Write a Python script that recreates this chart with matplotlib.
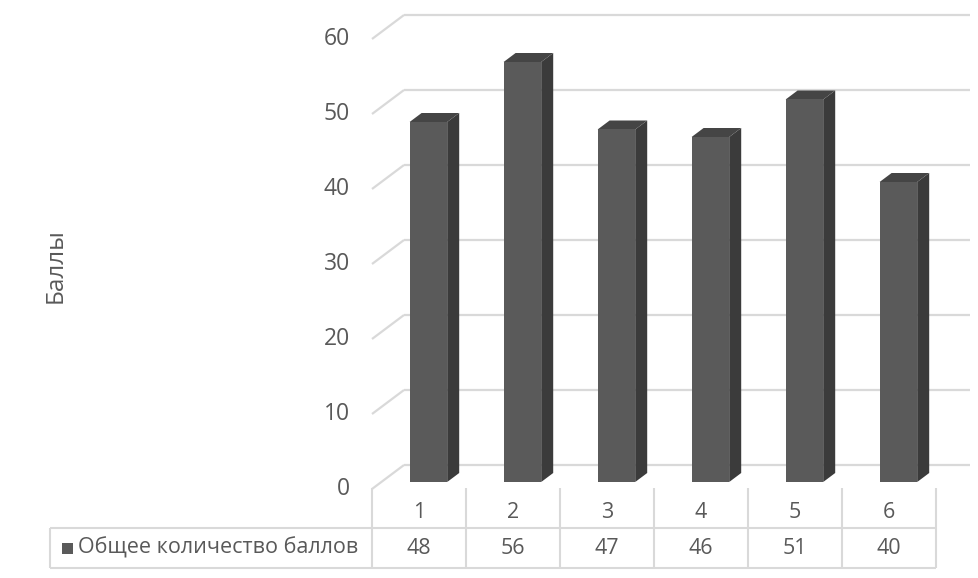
import matplotlib
matplotlib.use("Agg")
import matplotlib.pyplot as plt
from matplotlib.patches import Polygon, Rectangle

# ---- данные ----
categories = ["1", "2", "3", "4", "5", "6"]
scores = [48, 56, 47, 46, 51, 40]
y_ticks = [0, 10, 20, 30, 40, 50, 60]
series_name = "Общее количество баллов"
axis_title = "Баллы"

# ---- оформление ----
FONT = ["Open Sans", "DejaVu Sans"]
TEXT_C = "#595959"
GRID_C = "#d9d9d9"
FRONT_C = "#5a5a5a"
SIDE_C = "#3b3b3b"
TOP_C = "#454545"

# масштаб: пикселей на категорию / на балл
SX = 94.0
SY = 7.5


def px_x(p):
    return p / SX


def px_y(p):
    return -p / SY


fig = plt.figure(figsize=(9.79, 5.78), dpi=100)
ax = fig.add_axes([0, 0, 1, 1])
ax.set_xlim(-372 / SX, (979 - 372) / SX)
ax.set_ylim((482 - 578) / SY, 482 / SY)
ax.axis("off")

# --- сетка: боковая диагональ + задняя стена ---
wall_dx, wall_dy = px_x(32), px_y(-24)
front_off = px_y(7)
grid_end = (970 - 372) / SX
for g in y_ticks:
    y0 = g + front_off
    y1 = y0 + wall_dy
    ax.plot([0, wall_dx], [y0, y1], color=GRID_C, lw=1.6, zorder=1,
            solid_capstyle="butt")
    ax.plot([wall_dx, grid_end], [y1, y1], color=GRID_C, lw=1.6, zorder=1,
            solid_capstyle="butt")
    ax.text(px_x(-22), y0, str(g), ha="right", va="center", color=TEXT_C,
            fontsize=16.5, family=FONT)

# --- 3D столбцы ---
bar_off, bar_w = 0.40, 0.40
ddx, ddy = px_x(12), px_y(-9)
for i, v in enumerate(scores):
    x0 = i + bar_off
    x1 = x0 + bar_w
    ax.add_patch(Polygon([(x1, 0), (x1 + ddx, ddy), (x1 + ddx, v + ddy), (x1, v)],
                         closed=True, fc=SIDE_C, ec="none", zorder=3))
    ax.add_patch(Polygon([(x0, v), (x1, v), (x1 + ddx, v + ddy), (x0 + ddx, v + ddy)],
                         closed=True, fc=TOP_C, ec="none", zorder=3))
    ax.add_patch(Rectangle((x0, 0), bar_w, v, fc=FRONT_C, ec="none", zorder=4))

# --- таблица данных ---
n = len(categories)
row_top = px_y(6)
row_mid = px_y(46)
row_bot = px_y(86)
left = px_x(50 - 372)
tab_kw = dict(color=GRID_C, lw=1.5, zorder=2, solid_capstyle="butt")
for i in range(n + 1):
    ax.plot([i, i], [row_top, row_bot], **tab_kw)
ax.plot([left, n], [row_mid, row_mid], **tab_kw)
ax.plot([left, n], [row_bot, row_bot], **tab_kw)
ax.plot([left, left], [row_mid, row_bot], **tab_kw)

cat_y = px_y(31)
val_y = px_y(66)
for i, (c, v) in enumerate(zip(categories, scores)):
    ax.text(i + 0.5, cat_y, c, ha="center", va="center", color=TEXT_C,
            fontsize=15.5, family=FONT)
    ax.text(i + 0.5, val_y, str(v), ha="center", va="center", color=TEXT_C,
            fontsize=15.5, family=FONT)

# маркер легенды и название ряда
ax.add_patch(Rectangle((px_x(62 - 372), val_y - 5.5 / SY), 11 / SX, 11 / SY,
                       fc=FRONT_C, ec="none", zorder=4))
ax.text(px_x(78 - 372), val_y, series_name, ha="left", va="center",
        color=TEXT_C, fontsize=15.5, family=FONT)

# подпись оси
ax.text(px_x(56 - 372), px_y(266 - 482), axis_title, rotation=90,
        ha="center", va="center", color=TEXT_C, fontsize=17.5, family=FONT)

fig.savefig("out.png", dpi=100)
